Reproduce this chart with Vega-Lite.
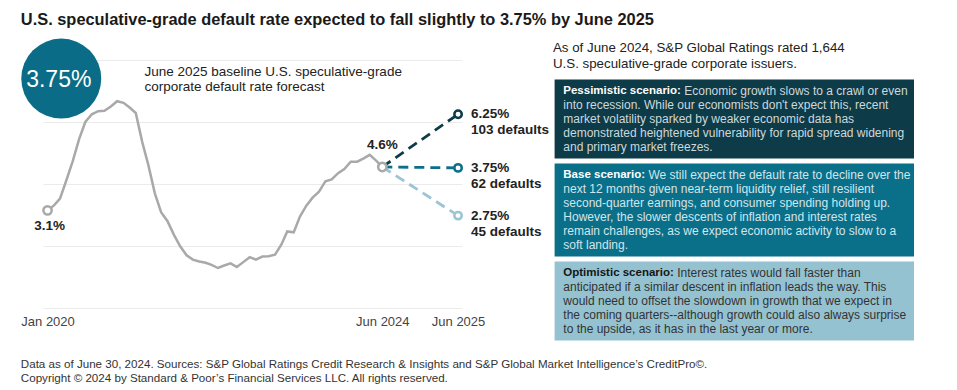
{
  "$schema": "https://vega.github.io/schema/vega-lite/v6.json",
  "padding": {"left": 20, "top": 12, "right": 5, "bottom": 2},
  "background": "white",
  "config": {"font": "Liberation Sans", "view": {"stroke": null}},
  "datasets": {
    "history": [
      {"date": "2020-01-01", "value": 3.15}, {"date": "2020-02-01", "value": 3.31}, {"date": "2020-03-01", "value": 3.53},
      {"date": "2020-04-01", "value": 4.13}, {"date": "2020-05-01", "value": 4.73}, {"date": "2020-06-01", "value": 5.45},
      {"date": "2020-07-01", "value": 6.0}, {"date": "2020-08-01", "value": 6.25}, {"date": "2020-09-01", "value": 6.35},
      {"date": "2020-10-01", "value": 6.36}, {"date": "2020-11-01", "value": 6.5}, {"date": "2020-12-01", "value": 6.67},
      {"date": "2021-01-01", "value": 6.62}, {"date": "2021-02-01", "value": 6.46}, {"date": "2021-03-01", "value": 6.29},
      {"date": "2021-04-01", "value": 5.36}, {"date": "2021-05-01", "value": 4.6}, {"date": "2021-06-01", "value": 3.7},
      {"date": "2021-07-01", "value": 3.09}, {"date": "2021-08-01", "value": 2.8}, {"date": "2021-09-01", "value": 2.36},
      {"date": "2021-10-01", "value": 1.99}, {"date": "2021-11-01", "value": 1.7}, {"date": "2021-12-01", "value": 1.56},
      {"date": "2022-01-01", "value": 1.5}, {"date": "2022-02-01", "value": 1.46}, {"date": "2022-03-01", "value": 1.39},
      {"date": "2022-04-01", "value": 1.29}, {"date": "2022-05-01", "value": 1.37}, {"date": "2022-06-01", "value": 1.44},
      {"date": "2022-07-01", "value": 1.32}, {"date": "2022-08-01", "value": 1.48}, {"date": "2022-09-01", "value": 1.64},
      {"date": "2022-10-01", "value": 1.56}, {"date": "2022-11-01", "value": 1.66}, {"date": "2022-12-01", "value": 1.67},
      {"date": "2023-01-01", "value": 1.72}, {"date": "2023-02-01", "value": 2.05}, {"date": "2023-03-01", "value": 2.47},
      {"date": "2023-04-01", "value": 2.44}, {"date": "2023-05-01", "value": 2.95}, {"date": "2023-06-01", "value": 3.3},
      {"date": "2023-07-01", "value": 3.56}, {"date": "2023-08-01", "value": 3.75}, {"date": "2023-09-01", "value": 4.09},
      {"date": "2023-10-01", "value": 4.15}, {"date": "2023-11-01", "value": 4.35}, {"date": "2023-12-01", "value": 4.48},
      {"date": "2024-01-01", "value": 4.72}, {"date": "2024-02-01", "value": 4.72}, {"date": "2024-03-01", "value": 4.82},
      {"date": "2024-04-01", "value": 4.94}, {"date": "2024-05-01", "value": 4.76}, {"date": "2024-06-01", "value": 4.55}
    ],
    "markers": [
      {"date": "2020-01-01", "value": 3.15, "label": "3.1%"},
      {"date": "2024-06-01", "value": 4.55, "label": "4.6%"}
    ],
    "forecast": [
      {"scenario": "Pessimistic", "date": "2024-06-01", "value": 4.55},
      {"scenario": "Pessimistic", "date": "2025-06-01", "value": 6.25, "rate": "6.25%", "defaults": "103 defaults"},
      {"scenario": "Base", "date": "2024-06-01", "value": 4.55},
      {"scenario": "Base", "date": "2025-06-01", "value": 4.52, "rate": "3.75%", "defaults": "62 defaults"},
      {"scenario": "Optimistic", "date": "2024-06-01", "value": 4.55},
      {"scenario": "Optimistic", "date": "2025-06-01", "value": 2.98, "rate": "2.75%", "defaults": "45 defaults"}
    ],
    "boxes": [
      {"scenario": "Pessimistic", "first": 3, "last": 7},
      {"scenario": "Base", "first": 9, "last": 14},
      {"scenario": "Optimistic", "first": 16, "last": 20}
    ],
    "headings": [
      {"scenario": "Pessimistic", "line": 3, "heading": "Pessimistic scenario:", "rest": "Economic growth slows to a crawl or even"},
      {"scenario": "Base", "line": 9, "heading": "Base scenario:", "rest": "We still expect the default rate to decline over the"},
      {"scenario": "Optimistic", "line": 16, "heading": "Optimistic scenario:", "rest": "Interest rates would fall faster than"}
    ],
    "lines": [
      {"scenario": "Pessimistic", "line": 4, "text": "into recession. While our economists don't expect this, recent"},
      {"scenario": "Pessimistic", "line": 5, "text": "market volatility sparked by weaker economic data has"},
      {"scenario": "Pessimistic", "line": 6, "text": "demonstrated heightened vulnerability for rapid spread widening"},
      {"scenario": "Pessimistic", "line": 7, "text": "and primary market freezes."},
      {"scenario": "Base", "line": 10, "text": "next 12 months given near-term liquidity relief, still resilient"},
      {"scenario": "Base", "line": 11, "text": "second-quarter earnings, and consumer spending holding up."},
      {"scenario": "Base", "line": 12, "text": "However, the slower descents of inflation and interest rates"},
      {"scenario": "Base", "line": 13, "text": "remain challenges, as we expect economic activity to slow to a"},
      {"scenario": "Base", "line": 14, "text": "soft landing."},
      {"scenario": "Optimistic", "line": 17, "text": "anticipated if a similar descent in inflation leads the way. This"},
      {"scenario": "Optimistic", "line": 18, "text": "would need to offset the slowdown in growth that we expect in"},
      {"scenario": "Optimistic", "line": 19, "text": "the coming quarters--although growth could also always surprise"},
      {"scenario": "Optimistic", "line": 20, "text": "to the upside, as it has in the last year or more."}
    ]
  },
  "title": {
    "text": ["Data as of June 30, 2024. Sources: S&P Global Ratings Credit Research & Insights and S&P Global Market Intelligence’s CreditPro©.", "Copyright © 2024 by Standard & Poor’s Financial Services LLC. All rights reserved."],
    "orient": "bottom", "anchor": "start", "frame": "bounds",
    "fontSize": 11.6, "fontWeight": "normal", "color": "#333333", "lineHeight": 14.3, "offset": 18.5, "font": "Liberation Sans"
  },
  "vconcat": [
    {
      "title": {
        "text": "U.S. speculative-grade default rate expected to fall slightly to 3.75% by June 2025",
        "anchor": "start", "frame": "bounds", "fontSize": 16.4, "fontWeight": "bold", "color": "#1a1a1a", "offset": 10, "font": "Liberation Sans"
      },
      "bounds": "flush",
      "spacing": 92.6,
      "hconcat": [
        {
          "width": 419,
          "height": 248,
          "layer": [
            {
              "data": {"name": "history"},
              "mark": {"type": "line", "color": "#a9a9a9", "strokeWidth": 2.5},
              "encoding": {
                "x": {
                  "field": "date", "type": "temporal",
                  "scale": {"type": "utc", "nice": false, "domain": [{"year": 2019, "month": 12, "date": 10, "utc": true}, {"year": 2025, "month": 6, "date": 20, "utc": true}]},
                  "axis": {
                    "title": null, "values": [{"year": 2020, "month": 1, "date": 1, "utc": true}, {"year": 2024, "month": 6, "date": 1, "utc": true}, {"year": 2025, "month": 6, "date": 1, "utc": true}],
                    "labelExpr": "utcFormat(datum.value, '%b %Y')", "labelFontSize": 13, "labelColor": "#444444", "labelPadding": 7,
                    "ticks": false, "domain": false, "grid": false, "labelFont": "Liberation Sans", "labelOverlap": false
                  }
                },
                "y": {
                  "field": "value", "type": "quantitative",
                  "scale": {"domain": [0, 8], "nice": false},
                  "axis": {"title": null, "values": [0, 2, 4, 6, 8], "labels": false, "ticks": false, "domain": false, "grid": true, "gridColor": "#ebebeb", "gridWidth": 1}
                }
              }
            },
            {
              "data": {"name": "forecast"},
              "mark": {"type": "line", "strokeDash": [10, 6], "strokeWidth": 2.8},
              "encoding": {
                "x": {"field": "date", "type": "temporal"},
                "y": {"field": "value", "type": "quantitative"},
                "color": {"field": "scenario", "type": "nominal", "scale": {"domain": ["Pessimistic", "Base", "Optimistic"], "range": ["#0d3b48", "#0e6f89", "#9ac6d4"]}, "legend": null}
              }
            },
            {
              "data": {"name": "markers"},
              "mark": {"type": "point", "shape": "circle", "filled": false, "fill": "white", "fillOpacity": 1, "stroke": "#a9a9a9", "strokeWidth": 2.5, "size": 70, "opacity": 1},
              "encoding": {
                "x": {"field": "date", "type": "temporal"},
                "y": {"field": "value", "type": "quantitative"}
              }
            },
            {
              "data": {"name": "forecast"},
              "transform": [{"filter": "isValid(datum.rate)"}],
              "mark": {"type": "point", "shape": "circle", "filled": false, "fill": "white", "fillOpacity": 1, "strokeWidth": 2.5, "size": 55, "opacity": 1},
              "encoding": {
                "x": {"field": "date", "type": "temporal"},
                "y": {"field": "value", "type": "quantitative"},
                "stroke": {"field": "scenario", "type": "nominal", "scale": {"domain": ["Pessimistic", "Base", "Optimistic"], "range": ["#0d3b48", "#0e6f89", "#9ac6d4"]}, "legend": null}
              }
            },
            {
              "data": {"name": "markers"},
              "transform": [{"filter": "datum.label == '3.1%'"}],
              "mark": {"type": "text", "fontSize": 13.5, "fontWeight": "bold", "color": "#222222", "dy": 16, "dx": 2, "align": "center", "baseline": "middle"},
              "encoding": {"x": {"field": "date", "type": "temporal"}, "y": {"field": "value", "type": "quantitative"}, "text": {"field": "label"}}
            },
            {
              "data": {"name": "markers"},
              "transform": [{"filter": "datum.label == '4.6%'"}],
              "mark": {"type": "text", "fontSize": 13.5, "fontWeight": "bold", "color": "#222222", "dy": -21.6, "align": "center", "baseline": "middle"},
              "encoding": {"x": {"field": "date", "type": "temporal"}, "y": {"field": "value", "type": "quantitative"}, "text": {"field": "label"}}
            },
            {
              "data": {"name": "forecast"},
              "transform": [{"filter": "isValid(datum.rate)"}],
              "mark": {"type": "text", "fontSize": 13.5, "fontWeight": "bold", "color": "#222222", "dx": 13, "dy": 0, "align": "left", "baseline": "middle"},
              "encoding": {"x": {"field": "date", "type": "temporal"}, "y": {"field": "value", "type": "quantitative"}, "text": {"field": "rate"}}
            },
            {
              "data": {"name": "forecast"},
              "transform": [{"filter": "isValid(datum.rate)"}],
              "mark": {"type": "text", "fontSize": 13.5, "fontWeight": "bold", "color": "#222222", "dx": 13, "dy": 16, "align": "left", "baseline": "middle"},
              "encoding": {"x": {"field": "date", "type": "temporal"}, "y": {"field": "value", "type": "quantitative"}, "text": {"field": "defaults"}}
            },
            {
              "data": {"values": [{"date": "2020-03-07", "value": 7.4, "label": "3.75%"}]},
              "mark": {"type": "point", "shape": "circle", "filled": true, "color": "#0a6c86", "opacity": 1, "size": 6400},
              "encoding": {"x": {"field": "date", "type": "temporal"}, "y": {"field": "value", "type": "quantitative"}}
            },
            {
              "data": {"values": [{"date": "2020-03-07", "value": 7.4, "label": "3.75%"}]},
              "mark": {"type": "text", "fontSize": 23, "color": "white", "align": "center", "baseline": "middle", "dx": -2.5, "dy": 1},
              "encoding": {"x": {"field": "date", "type": "temporal"}, "y": {"field": "value", "type": "quantitative"}, "text": {"field": "label"}}
            },
            {
              "data": {"values": [
                {"date": "2021-04-12", "value": 7.6, "note": "June 2025 baseline U.S. speculative-grade"},
                {"date": "2021-04-12", "value": 7.12, "note": "corporate default rate forecast"}
              ]},
              "mark": {"type": "text", "fontSize": 13.5, "color": "#222222", "align": "left", "baseline": "middle"},
              "encoding": {"x": {"field": "date", "type": "temporal"}, "y": {"field": "value", "type": "quantitative"}, "text": {"field": "note"}}
            }
          ]
        },
        {
          "width": 359.4,
          "height": 280,
          "resolve": {"scale": {"color": "independent"}},
          "layer": [
            {
              "data": {"name": "boxes"},
              "mark": {"type": "rect", "yOffset": -11.4, "y2Offset": 11.4},
              "encoding": {
                "x": {"datum": 0, "type": "quantitative", "scale": {"domain": [0, 1], "nice": false, "zero": false}, "axis": null},
                "x2": {"datum": 1},
                "y": {"field": "first", "type": "quantitative", "scale": {"domain": [0.786, 20.786], "reverse": true, "nice": false, "zero": false}, "axis": null},
                "y2": {"field": "last"},
                "color": {"field": "scenario", "type": "nominal", "scale": {"domain": ["Pessimistic", "Base", "Optimistic"], "range": ["#0d3b48", "#0a6f89", "#95c2d0"]}, "legend": null}
              }
            },
            {
              "data": {"name": "headings"},
              "mark": {"type": "text", "fontSize": 11.5, "fontWeight": "bold", "align": "left", "baseline": "middle", "dx": 8.7},
              "encoding": {
                "x": {"datum": 0, "type": "quantitative"},
                "y": {"field": "line", "type": "quantitative"},
                "text": {"field": "heading"},
                "color": {"field": "scenario", "type": "nominal", "scale": {"domain": ["Pessimistic", "Base", "Optimistic"], "range": ["#ffffff", "#ffffff", "#151515"]}, "legend": null}
              }
            },
            {
              "data": {"name": "headings"},
              "transform": [{"filter": "datum.scenario == 'Pessimistic'"}],
              "mark": {"type": "text", "fontSize": 12, "align": "left", "baseline": "middle", "dx": 129.6, "color": "#cdd8dc"},
              "encoding": {"x": {"datum": 0, "type": "quantitative"}, "y": {"field": "line", "type": "quantitative"}, "text": {"field": "rest"}}
            },
            {
              "data": {"name": "headings"},
              "transform": [{"filter": "datum.scenario == 'Base'"}],
              "mark": {"type": "text", "fontSize": 12, "align": "left", "baseline": "middle", "dx": 93.8, "color": "#d4e5eb"},
              "encoding": {"x": {"datum": 0, "type": "quantitative"}, "y": {"field": "line", "type": "quantitative"}, "text": {"field": "rest"}}
            },
            {
              "data": {"name": "headings"},
              "transform": [{"filter": "datum.scenario == 'Optimistic'"}],
              "mark": {"type": "text", "fontSize": 12, "align": "left", "baseline": "middle", "dx": 122.6, "color": "#333333"},
              "encoding": {"x": {"datum": 0, "type": "quantitative"}, "y": {"field": "line", "type": "quantitative"}, "text": {"field": "rest"}}
            },
            {
              "data": {"name": "lines"},
              "mark": {"type": "text", "fontSize": 12, "align": "left", "baseline": "middle", "dx": 8.7},
              "encoding": {
                "x": {"datum": 0, "type": "quantitative"},
                "y": {"field": "line", "type": "quantitative"},
                "text": {"field": "text"},
                "color": {"field": "scenario", "type": "nominal", "scale": {"domain": ["Pessimistic", "Base", "Optimistic"], "range": ["#cdd8dc", "#d4e5eb", "#333333"]}, "legend": null}
              }
            },
            {
              "data": {"values": [{"line": 0, "text": "As of June 2024, S&P Global Ratings rated 1,644\nU.S. speculative-grade corporate issuers."}]},
              "mark": {"type": "text", "fontSize": 13.3, "align": "left", "baseline": "top", "lineBreak": "\n", "lineHeight": 15.7, "dx": -1.6, "dy": -7.5, "color": "#222222"},
              "encoding": {"x": {"datum": 0, "type": "quantitative"}, "y": {"field": "line", "type": "quantitative"}, "text": {"field": "text"}}
            }
          ]
        }
      ]
    }
  ]
}
